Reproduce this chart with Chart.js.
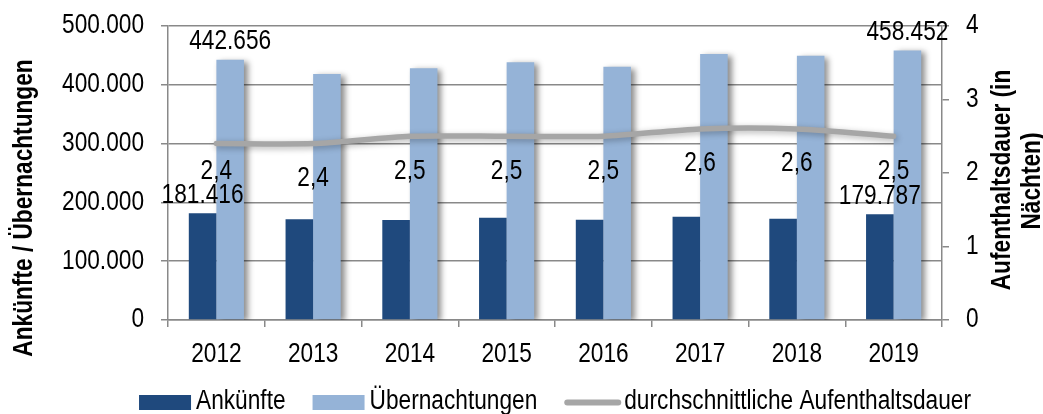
<!DOCTYPE html>
<html>
<head>
<meta charset="utf-8">
<script src="https://cdn.jsdelivr.net/npm/chart.js@4.4.1/dist/chart.umd.min.js"></script>
<style>
html, body { margin: 0; padding: 0; background: #fff; }
</style>
</head>
<body>
<canvas id="myChart" width="1043" height="414"></canvas>
<script>
// Daten
const jahre = ['2012', '2013', '2014', '2015', '2016', '2017', '2018', '2019'];
const ankuenfte = [181416, 171300, 170200, 174100, 170300, 175600, 172400, 179787];
const uebernachtungen = [442656, 418500, 428300, 438400, 430500, 452300, 449200, 458452];
const aufenthaltsdauer = [2.4, 2.4, 2.5, 2.5, 2.5, 2.6, 2.6, 2.5];
const ticksLinks = [0, 100000, 200000, 300000, 400000, 500000];
const ticksRechts = [0, 1, 2, 3, 4];

const FONT = "'Liberation Sans', Arial, sans-serif";
const SCHRIFT = '27px ' + FONT;
const SCHRIFT_FETT = 'bold 27px ' + FONT;
const SCHMAL = 0.84; // keine Narrow-Schrift da -> Text horizontal stauchen
const GRAU = '#898989';

function tausender(v) {
    return String(Math.round(v)).replace(/\B(?=(\d{3})+(?!\d))/g, '.');
}
function komma(v) {
    return v.toFixed(1).replace('.', ',');
}

function schreibe(ctx, text, x, y, align, font, winkel) {
    ctx.save();
    ctx.font = font;
    ctx.fillStyle = '#000';
    ctx.textAlign = align;
    ctx.textBaseline = 'middle';
    ctx.translate(x, y);
    if (winkel) ctx.rotate(winkel);
    ctx.scale(SCHMAL, 1);
    ctx.fillText(text, 0, 0);
    ctx.restore();
}

// Schatten rechts neben den Balken / unter der Linie
const schatten = {
    id: 'schatten',
    beforeDatasetDraw(chart, args) {
        let ds = chart.data.datasets[args.index];
        if (!ds.schatten) return;
        let ctx = chart.ctx;
        ctx.save();
        ctx.shadowColor = ds.schatten;
        ctx.shadowBlur = 6;
        ctx.shadowOffsetX = ds.type === 'bar' ? 4 : 1;
        ctx.shadowOffsetY = 2;
    },
    afterDatasetDraw(chart, args) {
        if (chart.data.datasets[args.index].schatten) chart.ctx.restore();
    }
};

// Datenbeschriftungen
const werteLabels = {
    id: 'werteLabels',
    afterDatasetsDraw(chart) {
        let ctx = chart.ctx;
        chart.data.datasets.forEach((ds, i) => {
            let meta = chart.getDatasetMeta(i);
            meta.data.forEach((el, j) => {
                if (ds.type === 'bar') {
                    if (j !== 0 && j !== ds.data.length - 1) return;
                    schreibe(ctx, tausender(ds.data[j]), el.x, el.y - 18, 'center', SCHRIFT);
                } else {
                    schreibe(ctx, komma(ds.data[j]), el.x, el.y + (j === 0 ? 28 : 35), 'center', SCHRIFT);
                }
            });
        });
    }
};

// Achsenbeschriftung, Achsentitel und Legende
const rahmen = {
    id: 'rahmen',
    afterDraw(chart) {
        let ctx = chart.ctx;
        let area = chart.chartArea;
        let sx = chart.scales.x, sy = chart.scales.y, sy2 = chart.scales.y2;

        ticksLinks.forEach(v => schreibe(ctx, tausender(v), sy.right - 24, sy.getPixelForValue(v), 'right', SCHRIFT));
        ticksRechts.forEach(v => schreibe(ctx, String(v), sy2.left + 24, sy2.getPixelForValue(v), 'left', SCHRIFT));
        jahre.forEach((j, i) => schreibe(ctx, j, sx.getPixelForValue(i), area.bottom + 35, 'center', SCHRIFT));

        schreibe(ctx, 'Ankünfte / Übernachtungen', 25, 208, 'center', SCHRIFT_FETT, -Math.PI / 2);
        schreibe(ctx, 'Aufenthaltsdauer (in', 1003, 180, 'center', SCHRIFT_FETT, -Math.PI / 2);
        schreibe(ctx, 'Nächten)', 1033, 181, 'center', SCHRIFT_FETT, -Math.PI / 2);

        // Legende
        ctx.save();
        ctx.font = SCHRIFT;
        let items = chart.data.datasets.map(ds => {
            let sym = ds.type === 'bar' ? 52 : 57;
            let gap = ds.type === 'bar' ? 5 : 3;
            return { ds: ds, sym: sym, gap: gap, w: sym + gap + ctx.measureText(ds.label).width * SCHMAL };
        });
        let abstand = 27;
        let total = items.reduce((s, it) => s + it.w, 0) + abstand * (items.length - 1);
        let x = (area.left + area.right) / 2 - total / 2;
        let yMitte = 402.5;
        items.forEach(it => {
            if (it.ds.type === 'bar') {
                ctx.fillStyle = it.ds.backgroundColor;
                ctx.fillRect(x, yMitte - 7.5, it.sym, 15);
            } else {
                ctx.strokeStyle = it.ds.borderColor;
                ctx.lineWidth = 6;
                ctx.lineCap = 'round';
                ctx.beginPath();
                ctx.moveTo(x + 3, yMitte);
                ctx.lineTo(x + it.sym - 3, yMitte);
                ctx.stroke();
            }
            schreibe(ctx, it.ds.label, x + it.sym + it.gap, yMitte - 1, 'left', SCHRIFT);
            x += it.w + abstand;
        });
        ctx.restore();
    }
};

Chart.defaults.font.family = FONT;
Chart.defaults.font.size = 27;
Chart.defaults.color = '#000';

var ctx = document.getElementById('myChart');

var mixedChart = new Chart(ctx, {
    data: {
        labels: jahre,
        datasets: [{
            type: 'bar',
            label: 'Ankünfte',
            data: ankuenfte,
            backgroundColor: '#1F497D',
            yAxisID: 'y',
            order: 1,
            categoryPercentage: 0.57,
            barPercentage: 1.0
        },
        {
            type: 'bar',
            label: 'Übernachtungen',
            data: uebernachtungen,
            backgroundColor: '#95B3D7',
            yAxisID: 'y',
            order: 1,
            categoryPercentage: 0.57,
            barPercentage: 1.0,
            schatten: 'rgba(0, 0, 0, 0.45)'
        },
        {
            type: 'line',
            label: 'durchschnittliche Aufenthaltsdauer',
            data: aufenthaltsdauer,
            yAxisID: 'y2',
            borderColor: '#A6A6A6',
            borderWidth: 5.5,
            borderCapStyle: 'round',
            borderJoinStyle: 'round',
            pointRadius: 0,
            tension: 0.25,
            order: 0,
            schatten: 'rgba(0, 0, 0, 0.3)'
        }]
    },
    options: {
        responsive: false,
        animation: false,
        devicePixelRatio: 1,
        layout: { padding: { top: 26, bottom: 0, left: 0, right: 0 } },
        plugins: {
            legend: { display: false },
            tooltip: { enabled: false }
        },
        scales: {
            x: {
                offset: true,
                grid: { offset: true, drawOnChartArea: false, tickLength: 7, color: GRAU, lineWidth: 1.5 },
                border: { display: true, color: GRAU, width: 1.5 },
                ticks: { display: false, autoSkip: false },
                afterFit: s => { s.height = 94; }
            },
            y: {
                position: 'left',
                min: 0,
                max: 500000,
                afterBuildTicks: s => { s.ticks = ticksLinks.map(v => ({ value: v })); },
                ticks: { display: false },
                grid: { color: GRAU, lineWidth: 1.5, tickLength: 7 },
                border: { display: true, color: GRAU, width: 1.5 },
                afterFit: s => { s.width = 168; }
            },
            y2: {
                position: 'right',
                min: 0,
                max: 4,
                afterBuildTicks: s => { s.ticks = ticksRechts.map(v => ({ value: v })); },
                ticks: { display: false },
                grid: { drawOnChartArea: false, color: GRAU, lineWidth: 1.5, tickLength: 7 },
                border: { display: true, color: GRAU, width: 1.5 },
                afterFit: s => { s.width = 101; }
            }
        }
    },
    plugins: [schatten, werteLabels, rahmen]
});
</script>
</body>
</html>
